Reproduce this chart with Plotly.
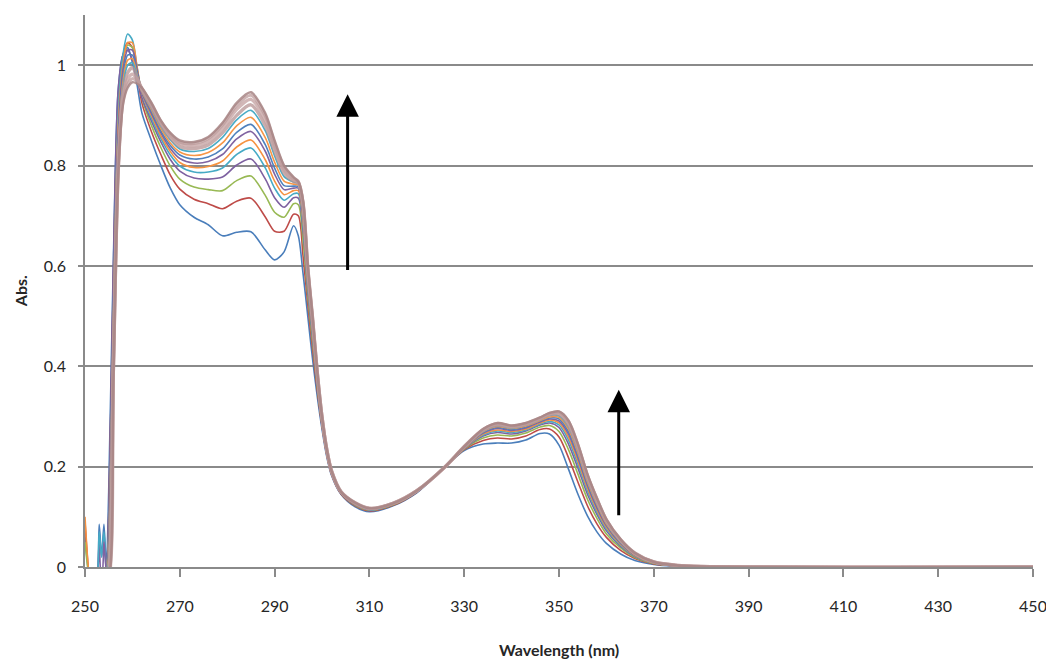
import plotly.graph_objects as go

# ---------------- data ----------------
wavelength = [250, 251.5, 252.5, 253, 253.5, 254, 254.5, 255, 256, 257, 258, 259, 260, 261, 262,
              264, 266, 268, 270, 273, 276, 279, 282, 285, 288, 290, 292, 294, 295, 296,
              297, 298, 299, 300, 301, 302, 304, 307, 310, 315, 320, 326, 330, 334, 337,
              340, 343, 346, 348, 350, 352, 354, 356, 358, 360, 363, 366, 370, 375, 380, 450]

abs_01 = [0.06, -0.05, -0.03, 0.085, 0.02, 0.085, 0.0, 0.15, 0.62, 0.95, 1.02, 1.035, 1.005, 0.96, 0.905,
          0.85, 0.80, 0.755, 0.722, 0.697, 0.682, 0.66, 0.667, 0.668, 0.632, 0.612, 0.628, 0.68, 0.66, 0.585,
          0.5, 0.415, 0.34, 0.275, 0.22, 0.183, 0.145, 0.12, 0.11, 0.122, 0.148, 0.2, 0.232, 0.245, 0.247,
          0.247, 0.253, 0.266, 0.265, 0.243, 0.195, 0.145, 0.102, 0.07, 0.047, 0.026, 0.013, 0.005, 0.001, 0.0, 0.0]
abs_02 = [0.09, -0.05, -0.03, -0.02, -0.02, -0.02, -0.01, 0.1, 0.58, 0.93, 1.02, 1.045, 1.035, 0.985, 0.925,
          0.868, 0.822, 0.781, 0.753, 0.733, 0.724, 0.714, 0.729, 0.735, 0.698, 0.669, 0.669, 0.703, 0.70, 0.62,
          0.524, 0.435, 0.352, 0.281, 0.224, 0.185, 0.146, 0.122, 0.112, 0.123, 0.149, 0.2, 0.234, 0.252, 0.257,
          0.255, 0.261, 0.274, 0.275, 0.259, 0.218, 0.169, 0.122, 0.086, 0.059, 0.033, 0.017, 0.006, 0.002, 0.0, 0.0]
abs_03 = [0.05, -0.05, -0.03, -0.02, -0.02, -0.02, -0.01, 0.07, 0.55, 0.91, 1.01, 1.04, 1.035, 0.99, 0.935,
          0.88, 0.836, 0.799, 0.773, 0.757, 0.752, 0.75, 0.77, 0.779, 0.741, 0.707, 0.697, 0.724, 0.722, 0.65,
          0.54, 0.449, 0.36, 0.285, 0.226, 0.187, 0.147, 0.123, 0.113, 0.124, 0.15, 0.2, 0.235, 0.257, 0.263,
          0.261, 0.267, 0.279, 0.282, 0.27, 0.234, 0.185, 0.135, 0.097, 0.066, 0.038, 0.019, 0.007, 0.002, 0.0, 0.0]
abs_04 = [-0.02, -0.05, -0.03, 0.05, -0.02, -0.02, -0.01, 0.1, 0.6, 0.95, 1.02, 1.03, 1.01, 0.975, 0.935,
          0.889, 0.847, 0.812, 0.789, 0.775, 0.773, 0.777, 0.801, 0.813, 0.774, 0.736, 0.717, 0.736, 0.735, 0.67,
          0.552, 0.459, 0.366, 0.288, 0.228, 0.188, 0.147, 0.124, 0.114, 0.125, 0.15, 0.2, 0.236, 0.261, 0.268,
          0.265, 0.271, 0.283, 0.287, 0.278, 0.245, 0.197, 0.145, 0.105, 0.072, 0.041, 0.021, 0.008, 0.002, 0.0, 0.0]
abs_05 = [-0.02, -0.05, -0.03, 0.07, 0.02, 0.07, -0.01, 0.06, 0.52, 0.9, 1.02, 1.062, 1.05, 0.995, 0.945,
          0.895, 0.854, 0.821, 0.799, 0.787, 0.787, 0.795, 0.822, 0.835, 0.796, 0.755, 0.731, 0.744, 0.744, 0.68,
          0.56, 0.466, 0.37, 0.29, 0.229, 0.188, 0.148, 0.125, 0.114, 0.125, 0.15, 0.2, 0.237, 0.263, 0.271,
          0.268, 0.273, 0.285, 0.29, 0.283, 0.253, 0.205, 0.152, 0.11, 0.076, 0.043, 0.022, 0.008, 0.002, 0.0, 0.0]
abs_06 = [0.1, -0.05, -0.03, -0.02, -0.02, -0.02, -0.01, 0.05, 0.5, 0.88, 1.0, 1.045, 1.045, 0.995, 0.945,
          0.9, 0.859, 0.828, 0.806, 0.796, 0.798, 0.809, 0.837, 0.851, 0.812, 0.769, 0.742, 0.75, 0.75, 0.69,
          0.566, 0.471, 0.373, 0.292, 0.23, 0.189, 0.148, 0.125, 0.115, 0.125, 0.151, 0.2, 0.237, 0.265, 0.273,
          0.27, 0.275, 0.287, 0.293, 0.287, 0.259, 0.211, 0.157, 0.114, 0.079, 0.045, 0.023, 0.008, 0.003, 0.0, 0.0]
abs_07 = [-0.02, -0.05, -0.03, -0.02, -0.02, 0.05, -0.01, 0.04, 0.48, 0.86, 0.99, 1.03, 1.03, 0.99, 0.945,
          0.904, 0.865, 0.834, 0.814, 0.805, 0.808, 0.822, 0.853, 0.868, 0.829, 0.783, 0.752, 0.755, 0.755, 0.70,
          0.572, 0.476, 0.376, 0.293, 0.231, 0.189, 0.148, 0.126, 0.115, 0.126, 0.151, 0.2, 0.238, 0.267, 0.276,
          0.272, 0.277, 0.289, 0.295, 0.291, 0.265, 0.217, 0.162, 0.118, 0.082, 0.047, 0.024, 0.009, 0.003, 0.001, 0.0]
abs_08 = [-0.02, -0.05, -0.03, -0.02, -0.02, -0.02, -0.01, 0.03, 0.46, 0.84, 0.975, 1.02, 1.02, 0.985, 0.947,
          0.908, 0.869, 0.84, 0.821, 0.813, 0.817, 0.833, 0.866, 0.882, 0.842, 0.795, 0.76, 0.759, 0.758, 0.705,
          0.577, 0.48, 0.379, 0.294, 0.232, 0.19, 0.149, 0.126, 0.115, 0.126, 0.151, 0.2, 0.238, 0.268, 0.278,
          0.274, 0.279, 0.291, 0.297, 0.295, 0.27, 0.222, 0.166, 0.122, 0.084, 0.048, 0.025, 0.009, 0.003, 0.001, 0.0]
abs_09 = [-0.02, -0.05, -0.03, -0.02, -0.02, -0.02, -0.01, 0.02, 0.44, 0.82, 0.965, 1.01, 1.013, 0.98, 0.948,
          0.912, 0.874, 0.845, 0.827, 0.82, 0.826, 0.845, 0.879, 0.896, 0.856, 0.807, 0.769, 0.763, 0.761, 0.71,
          0.582, 0.485, 0.381, 0.296, 0.232, 0.19, 0.149, 0.127, 0.116, 0.126, 0.151, 0.2, 0.239, 0.27, 0.28,
          0.276, 0.281, 0.292, 0.299, 0.298, 0.275, 0.227, 0.17, 0.125, 0.086, 0.05, 0.025, 0.009, 0.003, 0.001, 0.0]
abs_10 = [-0.02, -0.05, -0.03, -0.02, -0.02, -0.02, -0.01, 0.01, 0.42, 0.81, 0.955, 1.0, 1.005, 0.978, 0.95,
          0.915, 0.878, 0.851, 0.833, 0.828, 0.834, 0.856, 0.891, 0.91, 0.87, 0.819, 0.778, 0.767, 0.764, 0.715,
          0.587, 0.489, 0.384, 0.297, 0.233, 0.191, 0.149, 0.127, 0.116, 0.126, 0.151, 0.2, 0.239, 0.271, 0.282,
          0.277, 0.283, 0.294, 0.302, 0.301, 0.279, 0.232, 0.174, 0.128, 0.089, 0.051, 0.026, 0.009, 0.003, 0.001, 0.0]
abs_11 = [-0.02, -0.05, -0.03, -0.02, -0.02, -0.02, -0.02, -0.01, 0.41, 0.8, 0.945, 0.985, 0.995, 0.975, 0.951,
          0.918, 0.882, 0.855, 0.838, 0.834, 0.841, 0.865, 0.9, 0.921, 0.88, 0.829, 0.785, 0.768, 0.765, 0.72,
          0.591, 0.492, 0.386, 0.298, 0.234, 0.191, 0.15, 0.127, 0.116, 0.127, 0.152, 0.2, 0.239, 0.272, 0.283,
          0.279, 0.284, 0.295, 0.303, 0.304, 0.283, 0.236, 0.178, 0.131, 0.091, 0.052, 0.027, 0.01, 0.003, 0.001, 0.0]
abs_12 = [-0.02, -0.05, -0.03, -0.02, -0.02, -0.02, -0.02, -0.01, 0.4, 0.79, 0.935, 0.972, 0.982, 0.972, 0.953,
          0.921, 0.886, 0.86, 0.844, 0.84, 0.848, 0.874, 0.912, 0.932, 0.891, 0.838, 0.791, 0.772, 0.767, 0.724,
          0.595, 0.496, 0.388, 0.299, 0.234, 0.192, 0.15, 0.128, 0.117, 0.127, 0.152, 0.2, 0.24, 0.274, 0.285,
          0.28, 0.285, 0.296, 0.305, 0.307, 0.287, 0.24, 0.181, 0.134, 0.093, 0.054, 0.027, 0.01, 0.003, 0.001, 0.0]
abs_13 = [-0.02, -0.05, -0.03, -0.02, -0.02, -0.02, -0.02, -0.02, 0.39, 0.785, 0.928, 0.962, 0.973, 0.968, 0.954,
          0.924, 0.888, 0.863, 0.847, 0.844, 0.854, 0.881, 0.92, 0.94, 0.9, 0.845, 0.797, 0.775, 0.768, 0.727,
          0.598, 0.498, 0.389, 0.3, 0.235, 0.192, 0.15, 0.128, 0.117, 0.127, 0.152, 0.2, 0.24, 0.274, 0.286,
          0.281, 0.286, 0.297, 0.306, 0.309, 0.29, 0.243, 0.183, 0.136, 0.094, 0.054, 0.028, 0.01, 0.003, 0.001, 0.0]
abs_14 = [-0.02, -0.05, -0.03, -0.02, -0.02, -0.02, -0.02, -0.02, 0.38, 0.78, 0.92, 0.955, 0.966, 0.963, 0.955,
          0.925, 0.89, 0.865, 0.85, 0.847, 0.857, 0.885, 0.925, 0.946, 0.905, 0.85, 0.80, 0.777, 0.768, 0.73,
          0.6, 0.5, 0.39, 0.3, 0.235, 0.192, 0.15, 0.128, 0.117, 0.127, 0.152, 0.2, 0.24, 0.275, 0.287,
          0.282, 0.287, 0.298, 0.307, 0.31, 0.292, 0.245, 0.185, 0.137, 0.095, 0.055, 0.028, 0.01, 0.003, 0.001, 0.0]

spectra = [abs_01, abs_02, abs_03, abs_04, abs_05, abs_06, abs_07,
           abs_08, abs_09, abs_10, abs_11, abs_12, abs_13, abs_14]

x_ticks = [250, 270, 290, 310, 330, 350, 370, 390, 410, 430, 450]
y_ticks = [0, 0.2, 0.4, 0.6, 0.8, 1.0]
y_tick_labels = ["0", "0.2", "0.4", "0.6", "0.8", "1"]

# arrows (data coordinates: x, y_start, y_end)
arrow_x = [305.4, 362.6]
arrow_from = [0.589, 0.100]
arrow_to = [0.942, 0.353]

# ---------------- styling ----------------
line_colors = ["#4A7EBB", "#BE4B48", "#98B954", "#7D60A0", "#46AAC5", "#F69240", "#8064A2",
               "#4F81BD", "#F79646", "#4BACC6", "#B89494", "#C4A0A0", "#BD9C9C", "#A88585"]
line_widths = [1.6] * 10 + [3.4, 3.4, 3.2, 2.4]
line_opacity = [1.0] * 10 + [0.75, 0.75, 0.75, 0.85]

fig = go.Figure()
for vals, col, w, op in zip(spectra, line_colors, line_widths, line_opacity):
    fig.add_trace(go.Scatter(
        x=wavelength, y=vals, mode="lines",
        line=dict(color=col, width=w, shape="spline", smoothing=0.8),
        opacity=op, showlegend=False, hoverinfo="skip"))

axis_grey = "#8A8A8A"
tick_font = dict(family="Lato, Open Sans, sans-serif", size=16, color="#262626")

fig.update_xaxes(
    range=[250, 450], tickvals=x_ticks, ticktext=[str(v) for v in x_ticks],
    showgrid=False, zeroline=False, showline=True, linecolor=axis_grey, linewidth=1.5,
    ticks="outside", ticklen=8, tickwidth=1.5, tickcolor=axis_grey,
    tickfont=tick_font, ticklabelstandoff=16)
fig.update_yaxes(
    range=[0, 1.1], tickvals=y_ticks, ticktext=y_tick_labels,
    showgrid=True, gridcolor=axis_grey, gridwidth=1.5,
    zeroline=False, showline=True, linecolor=axis_grey, linewidth=1.5,
    ticks="outside", ticklen=5, tickwidth=1.5, tickcolor=axis_grey,
    tickfont=tick_font, ticklabelstandoff=9)

annotations = []
for xa, y0, y1 in zip(arrow_x, arrow_from, arrow_to):
    annotations.append(dict(
        x=xa, y=y1, ax=xa, ay=y0, xref="x", yref="y", axref="x", ayref="y",
        text="", showarrow=True, arrowhead=2, arrowsize=1.5, arrowwidth=3,
        arrowcolor="#000000", standoff=0))

annotations.append(dict(
    text="<b>Wavelength (nm)</b>", xref="paper", yref="paper", x=0.5, y=-0.150,
    xanchor="center", yanchor="middle", showarrow=False,
    font=dict(family="Lato, Open Sans, sans-serif", size=16, color="#262626")))
annotations.append(dict(
    text="<b>Abs.</b>", xref="paper", yref="paper", x=-0.0684, y=0.5,
    xanchor="center", yanchor="middle", showarrow=False, textangle=-90,
    font=dict(family="Lato, Open Sans, sans-serif", size=16, color="#262626")))

# the page body has an 8 px margin, so the figure is 8 px smaller on each axis
fig.update_layout(
    width=1046, height=654,
    margin=dict(l=77, r=19, t=7, b=95),
    paper_bgcolor="white", plot_bgcolor="white",
    annotations=annotations,
    showlegend=False)

fig.write_html("out.html")
